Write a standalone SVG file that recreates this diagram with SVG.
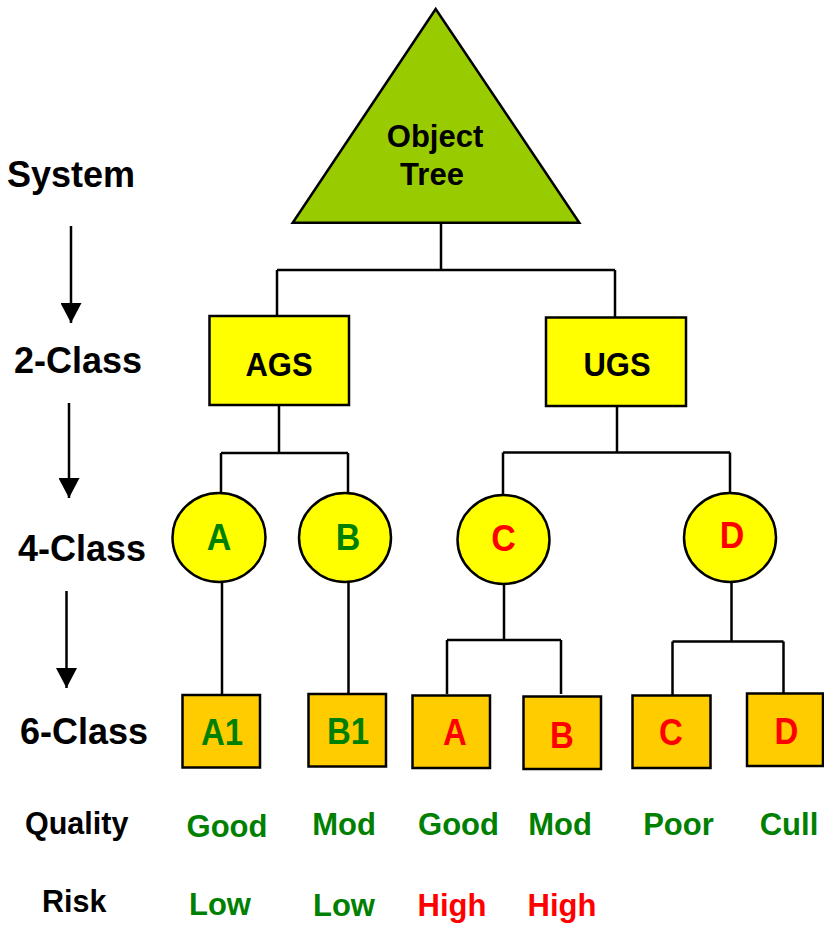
<svg xmlns="http://www.w3.org/2000/svg" width="824" height="927" viewBox="0 0 824 927">
<style>
text{font-family:"Liberation Sans",Arial,sans-serif;font-weight:bold;text-anchor:middle}
.lbl{font-size:36px;fill:#000;text-anchor:start}
.sm{font-size:30.5px;fill:#000;text-anchor:start}
.k{fill:#000}
.g{fill:#008000}
.r{fill:#FF0000}
.q{font-size:31px}
.n{font-size:33px}
.shape{stroke:#000;stroke-width:2.5}
.tri{fill:#99CC00}
.yel{fill:#FFFF00}
.leaf{fill:#FFCC00}
.conn{fill:none;stroke:#000;stroke-width:2.5}
</style>
<defs>
<marker id="ah" viewBox="0 0 20 21" refX="20" refY="10.5" markerWidth="20" markerHeight="21" markerUnits="userSpaceOnUse" orient="auto">
<path d="M0,0 L20,10.5 L0,21 Z" fill="#000"/>
</marker>
</defs>
<g id="levels">
<text class="lbl" x="7" y="187">System</text>
<text class="lbl" x="14" y="373">2-Class</text>
<text class="lbl" x="18" y="561">4-Class</text>
<text class="lbl" x="20" y="744">6-Class</text>
<text class="sm" x="25" y="834">Quality</text>
<text class="sm" x="42" y="912">Risk</text>
<line x1="71" y1="226" x2="71" y2="323" stroke="#000" stroke-width="2.5" marker-end="url(#ah)"/>
<line x1="69" y1="403" x2="69" y2="498" stroke="#000" stroke-width="2.5" marker-end="url(#ah)"/>
<line x1="66.5" y1="591" x2="66.5" y2="688" stroke="#000" stroke-width="2.5" marker-end="url(#ah)"/>
</g>
<g id="connectors">
<path class="conn" d="M441,223 V270 M277,270 H615 M277,270 V316 M615,270 V318"/>
<path class="conn" d="M279,405 V453 M221,453 H348 M221,453 V493 M348,453 V493"/>
<path class="conn" d="M617,406 V452.5 M503,452.5 H730 M503,452.5 V495 M730,452.5 V493"/>
<path class="conn" d="M222,582 V695 M348.5,582 V694"/>
<path class="conn" d="M504,584 V640 M447,640 H561 M447,640 V694 M561,640 V694"/>
<path class="conn" d="M731.5,582 V641.5 M672.5,641.5 H783.5 M672.5,641.5 V695 M783.5,641.5 V693"/>
</g>
<g id="object-tree">
<polygon class="shape tri" points="435.7,9 292.7,222.7 579.3,222.7"/>
<text class="k" x="435" y="147" font-size="31">Object</text>
<text class="k" x="432" y="185" font-size="31">Tree</text>
</g>
<g id="ags">
<rect class="shape yel" x="209.5" y="316" width="139.5" height="89"/>
<text class="k" font-size="31" transform="translate(279,376) scale(1,1.07)">AGS</text>
</g>
<g id="ugs">
<rect class="shape yel" x="546" y="317.5" width="140" height="88.5"/>
<text class="k" font-size="31" transform="translate(617,376) scale(1,1.07)">UGS</text>
</g>
<g id="c4-a">
<ellipse class="shape yel" cx="219" cy="537.5" rx="46.5" ry="44.5"/>
<text class="g n" transform="translate(219,549.5) scale(1.03,1.1)">A</text>
</g>
<g id="c4-b">
<ellipse class="shape yel" cx="345" cy="537.5" rx="46" ry="44.5"/>
<text class="g n" transform="translate(348,549.5) scale(1.03,1.1)">B</text>
</g>
<g id="c4-c">
<ellipse class="shape yel" cx="503.5" cy="539.5" rx="46" ry="44.5"/>
<text class="r n" transform="translate(503.5,551) scale(1.03,1.1)">C</text>
</g>
<g id="c4-d">
<ellipse class="shape yel" cx="730" cy="537.5" rx="46" ry="44.5"/>
<text class="r n" transform="translate(732,548) scale(1.03,1.1)">D</text>
</g>
<g id="leaf-a1">
<rect class="shape leaf" x="182.5" y="695" width="77.5" height="72.5"/>
<text class="g n" transform="translate(222,745) scale(1,1.1)">A1</text>
</g>
<g id="leaf-b1">
<rect class="shape leaf" x="308.5" y="694" width="77.5" height="72.5"/>
<text class="g n" transform="translate(348,744) scale(1,1.1)">B1</text>
</g>
<g id="leaf-a">
<rect class="shape leaf" x="412.5" y="695.5" width="77.5" height="72.5"/>
<text class="r n" transform="translate(455,744.5) scale(1,1.1)">A</text>
</g>
<g id="leaf-b">
<rect class="shape leaf" x="523.5" y="696.5" width="77.5" height="72.5"/>
<text class="r n" transform="translate(562,747.5) scale(1,1.1)">B</text>
</g>
<g id="leaf-c">
<rect class="shape leaf" x="632.5" y="695.5" width="78" height="72.5"/>
<text class="r n" transform="translate(671,745) scale(1,1.1)">C</text>
</g>
<g id="leaf-d">
<rect class="shape leaf" x="747" y="693.5" width="76" height="72.5"/>
<text class="r n" transform="translate(786.5,743.5) scale(1,1.1)">D</text>
</g>
<g id="quality">
<text class="g q" x="227" y="837">Good</text>
<text class="g q" x="344" y="835">Mod</text>
<text class="g q" x="458.5" y="835">Good</text>
<text class="g q" x="560" y="835">Mod</text>
<text class="g q" x="678.5" y="835">Poor</text>
<text class="g q" x="789" y="835">Cull</text>
</g>
<g id="risk">
<text class="g q" x="220" y="915">Low</text>
<text class="g q" x="344" y="916">Low</text>
<text class="r q" x="452" y="916">High</text>
<text class="r q" x="562" y="916">High</text>
</g>
</svg>
